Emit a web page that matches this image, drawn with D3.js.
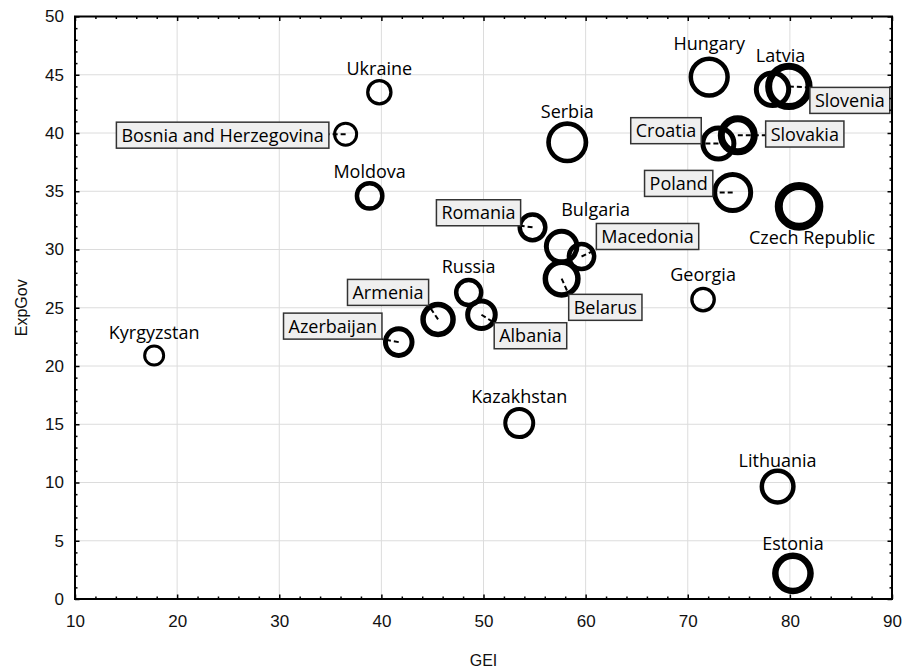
<!DOCTYPE html>
<html><head><meta charset="utf-8">
<script src="https://cdn.jsdelivr.net/npm/d3@7"></script>
<style>body{margin:0;background:#fff}</style>
</head><body><svg id="chart" width="905" height="669"></svg>
<script>
// ---------- data ----------
const countries = ["Kyrgyzstan","Bosnia and Herzegovina","Ukraine","Moldova","Azerbaijan","Armenia","Russia","Albania","Kazakhstan","Romania","Bulgaria","Macedonia","Belarus","Serbia","Georgia","Hungary","Croatia","Slovakia","Poland","Latvia","Slovenia","Czech Republic","Lithuania","Estonia"];
const gei    = [17.75,36.5,39.8,38.85,41.7,45.55,48.55,49.8,53.5,54.8,57.65,59.6,57.65,58.2,71.5,72.1,73.0,74.9,74.4,78.3,79.9,80.9,78.8,80.3];
const expGov = [20.9,39.9,43.5,34.6,22.05,24.0,26.3,24.4,15.1,31.9,30.25,29.4,27.5,39.2,25.7,44.8,39.1,39.8,34.9,43.75,44.0,33.7,9.65,2.2];
const bubbleSize   = [9.5,11,11.6,12.7,13.3,15,12.5,13.8,14,12.8,15.3,12.6,16.3,18.7,11.2,18.4,15.5,16.5,18,16.2,20.2,20.3,15.8,17.6];
const bubbleWeight = [3,3,3.3,4.5,5,5.5,4.5,5,4,4.5,5,4.5,5.5,4.7,3.3,4.5,5,7,5,5,7,8,4.5,6.5];
const xTicks = [10,20,30,40,50,60,70,80,90];
const yTicks = [0,5,10,15,20,25,30,35,40,45,50];
const xTitle = "GEI", yTitle = "ExpGov";

// ---------- label layout (pixel offsets from bubble centre) ----------
const labelLayout = {
  "Kyrgyzstan":{dx:0,dy:-17}, "Ukraine":{dx:0,dy:-17}, "Moldova":{dx:0,dy:-17.7},
  "Serbia":{dx:0,dy:-24}, "Kazakhstan":{dx:0,dy:-20}, "Hungary":{dx:0,dy:-27},
  "Latvia":{dx:8,dy:-27}, "Russia":{dx:0,dy:-20}, "Bulgaria":{dx:34,dy:-31},
  "Georgia":{dx:0,dy:-19}, "Lithuania":{dx:0,dy:-20}, "Estonia":{dx:0,dy:-23},
  "Czech Republic":{dx:13,dy:37.6},
  "Bosnia and Herzegovina":{box:true,dx:-123,dy:1},
  "Armenia":{box:true,dx:-50,dy:-27}, "Azerbaijan":{box:true,dx:-66,dy:-16},
  "Romania":{box:true,dx:-54,dy:-14.6}, "Albania":{box:true,dx:49,dy:21},
  "Belarus":{box:true,dx:43.7,dy:28.7}, "Macedonia":{box:true,dx:66,dy:-20},
  "Poland":{box:true,dx:-54,dy:-9}, "Croatia":{box:true,dx:-52.4,dy:-12.8},
  "Slovakia":{box:true,dx:67,dy:-1.3}, "Slovenia":{box:true,dx:61,dy:14}
};

const svg = d3.select("#chart");
const L = 75, R = 892, T = 16.5, B = 599;
const x = d3.scaleLinear().domain([10,90]).range([L,R]);
const y = d3.scaleLinear().domain([0,50]).range([B,T]);
const rScale = d3.scaleLinear().domain([0,25]).range([0,25]);
const wScale = d3.scaleLinear().domain([0,10]).range([0,10]);

const pts = countries.map((c,i)=>({name:c, gx:gei[i], gy:expGov[i], s:bubbleSize[i], w:bubbleWeight[i]}));

// grid
const grid = svg.append("g").attr("stroke","#dcdcdc").attr("stroke-width",1);
grid.selectAll(".gx").data(xTicks.slice(1,-1)).join("line")
  .attr("x1",d=>x(d)).attr("x2",d=>x(d)).attr("y1",T).attr("y2",B);
grid.selectAll(".gy").data(yTicks.slice(1,-1)).join("line")
  .attr("y1",d=>y(d)).attr("y2",d=>y(d)).attr("x1",L).attr("x2",R);

// bubbles
svg.append("g").selectAll("circle").data(pts).join("circle")
  .attr("cx",d=>x(d.gx)).attr("cy",d=>y(d.gy)).attr("r",d=>rScale(d.s))
  .attr("fill","none").attr("stroke","#000").attr("stroke-width",d=>wScale(d.w));

const font = "'Open Sans', Lato, sans-serif";
const fs = 18;
const lab = svg.append("g");
pts.forEach(p=>{
  const lay = labelLayout[p.name]; if(!lay) return;
  const cx = x(p.gx), cy = y(p.gy);
  if(!lay.box){
    lab.append("text").attr("x",cx+lay.dx).attr("y",cy+lay.dy)
      .attr("text-anchor","middle").attr("font-family",font).attr("font-size",fs)
      .attr("fill","#000").text(p.name);
  } else {
    const bx = cx+lay.dx, by = cy+lay.dy;
    const g = lab.append("g");
    const t = g.append("text").attr("x",bx).attr("y",by).attr("dy","0.36em")
      .attr("text-anchor","middle").attr("font-family",font).attr("font-size",fs)
      .attr("fill","#000").text(p.name);
    const w = t.node().getComputedTextLength()+10, h = 26;
    const x0 = bx-w/2, y0 = by-h/2;
    const nx = Math.max(x0, Math.min(cx, x0+w)), ny = Math.max(y0, Math.min(cy, y0+h));
    g.insert("line","text").attr("x1",cx).attr("y1",cy).attr("x2",nx).attr("y2",ny)
      .attr("stroke","#000").attr("stroke-width",2).attr("stroke-dasharray","5,3");
    g.insert("rect","text").attr("x",x0).attr("y",y0).attr("width",w).attr("height",h)
      .attr("fill","#efefef").attr("stroke","#333").attr("stroke-width",1.5);
  }
});

// axes
const minorX = d3.range(10,91,2).filter(v=>v%10), minorY = d3.range(0,51,1).filter(v=>v%5);
function styleAxis(g){ g.select(".domain").remove(); g.selectAll(".tick line").attr("stroke","#000").attr("stroke-width",1.5);
  g.selectAll("text").attr("font-family","'Liberation Sans', Arial, sans-serif").attr("font-size",17).attr("fill","#111"); }
svg.append("g").attr("transform",`translate(0,${B})`).call(d3.axisBottom(x).tickValues(xTicks).tickSizeInner(-4.5).tickSizeOuter(0).tickPadding(16).tickFormat(d3.format("d"))).call(styleAxis);
svg.append("g").attr("transform",`translate(0,${B})`).call(d3.axisBottom(x).tickValues(minorX).tickSizeInner(-2.5).tickSizeOuter(0).tickFormat("")).call(styleAxis);
svg.append("g").attr("transform",`translate(0,${T})`).call(d3.axisTop(x).tickValues(xTicks).tickSizeInner(-4.5).tickSizeOuter(0).tickFormat("")).call(styleAxis);
svg.append("g").attr("transform",`translate(0,${T})`).call(d3.axisTop(x).tickValues(minorX).tickSizeInner(-2.5).tickSizeOuter(0).tickFormat("")).call(styleAxis);
svg.append("g").attr("transform",`translate(${L},0)`).call(d3.axisLeft(y).tickValues(yTicks).tickSizeInner(-4.5).tickSizeOuter(0).tickPadding(11).tickFormat(d3.format("d"))).call(styleAxis);
svg.append("g").attr("transform",`translate(${L},0)`).call(d3.axisLeft(y).tickValues(minorY).tickSizeInner(-2.5).tickSizeOuter(0).tickFormat("")).call(styleAxis);
svg.append("g").attr("transform",`translate(${R},0)`).call(d3.axisRight(y).tickValues(yTicks).tickSizeInner(-4.5).tickSizeOuter(0).tickFormat("")).call(styleAxis);
svg.append("g").attr("transform",`translate(${R},0)`).call(d3.axisRight(y).tickValues(minorY).tickSizeInner(-2.5).tickSizeOuter(0).tickFormat("")).call(styleAxis);

// frame
svg.append("rect").attr("x",L).attr("y",T).attr("width",R-L).attr("height",B-T)
  .attr("fill","none").attr("stroke","#000").attr("stroke-width",2);

// titles
svg.append("text").attr("x",(L+R)/2).attr("y",666).attr("text-anchor","middle")
  .attr("font-family","'Liberation Sans', Arial, sans-serif").attr("font-size",16).attr("fill","#111").text(xTitle);
svg.append("text").attr("transform",`translate(27,${(T+B)/2}) rotate(-90)`).attr("text-anchor","middle")
  .attr("font-family","'Liberation Sans', Arial, sans-serif").attr("font-size",16).attr("fill","#111").text(yTitle);
</script></body></html>
